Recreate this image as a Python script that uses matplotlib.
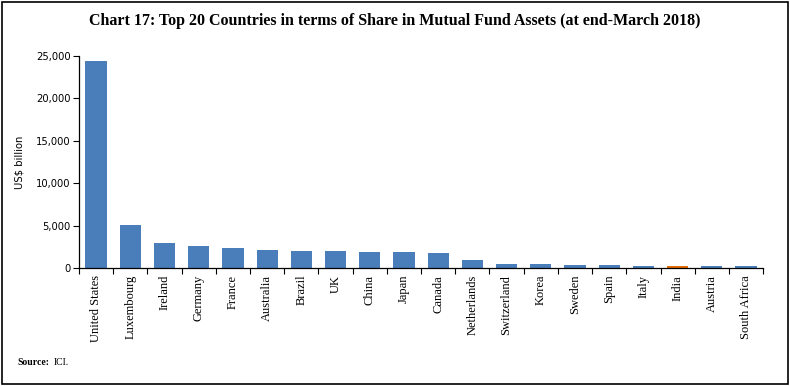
import matplotlib
matplotlib.use("Agg")
import matplotlib.pyplot as plt
from matplotlib.patches import Rectangle

# Data (US$ billion, end-March 2018)
countries = ["United States", "Luxembourg", "Ireland", "Germany", "France",
             "Australia", "Brazil", "UK", "China", "Japan", "Canada",
             "Netherlands", "Switzerland", "Korea", "Sweden", "Spain",
             "Italy", "India", "Austria", "South Africa"]
assets = [24400, 5050, 2930, 2580, 2350, 2120, 2040, 2030, 1890, 1880, 1800,
          940, 470, 460, 350, 340, 250, 240, 230, 220]
highlight = "India"

blue = "#4a7ebb"
orange = "#e46c0a"
colors = [orange if c == highlight else blue for c in countries]

fig = plt.figure(figsize=(7.9, 3.86), dpi=100)
ax = fig.add_axes([0.100, 0.306, 0.866, 0.549])

x = range(len(countries))
ax.bar(x, assets, width=0.62, color=colors)

ax.set_xlim(-0.5, len(countries) - 0.5)
ax.set_ylim(0, 25000)
ax.set_yticks(range(0, 25001, 5000))
ax.set_yticklabels([f"{v:,}" for v in range(0, 25001, 5000)],
                   fontsize=7.2, family="DejaVu Sans")
ax.set_ylabel("US$ billion", fontsize=7.2, family="DejaVu Sans", labelpad=8)

# category labels centred, tick marks on the boundaries
ax.set_xticks(list(x))
ax.set_xticklabels(countries, rotation=90, fontsize=9, family="Liberation Serif")
ax.tick_params(axis="x", length=0, pad=5)
ax.set_xticks([i - 0.5 for i in range(len(countries) + 1)], minor=True)
ax.tick_params(axis="x", which="minor", length=4, width=0.8)
ax.tick_params(axis="y", length=4, width=0.8, pad=2)

for side in ["top", "right"]:
    ax.spines[side].set_visible(False)
for side in ["left", "bottom"]:
    ax.spines[side].set_linewidth(0.9)

fig.text(0.5, 0.945,
         "Chart 17: Top 20 Countries in terms of Share in Mutual Fund Assets (at end-March 2018)",
         ha="center", va="center", fontsize=11.5, fontweight="bold",
         family="Liberation Serif")
fig.text(0.022, 0.06, "Source:", fontsize=7, fontweight="bold",
         family="Liberation Serif", va="center")
fig.text(0.068, 0.06, "ICI.", fontsize=7, family="Liberation Serif", va="center")

# outer frame
fig.patches.append(Rectangle((0.003, 0.005), 0.994, 0.99, transform=fig.transFigure,
                             fill=False, edgecolor="black", linewidth=1.2))

fig.savefig("out.png", dpi=100)
